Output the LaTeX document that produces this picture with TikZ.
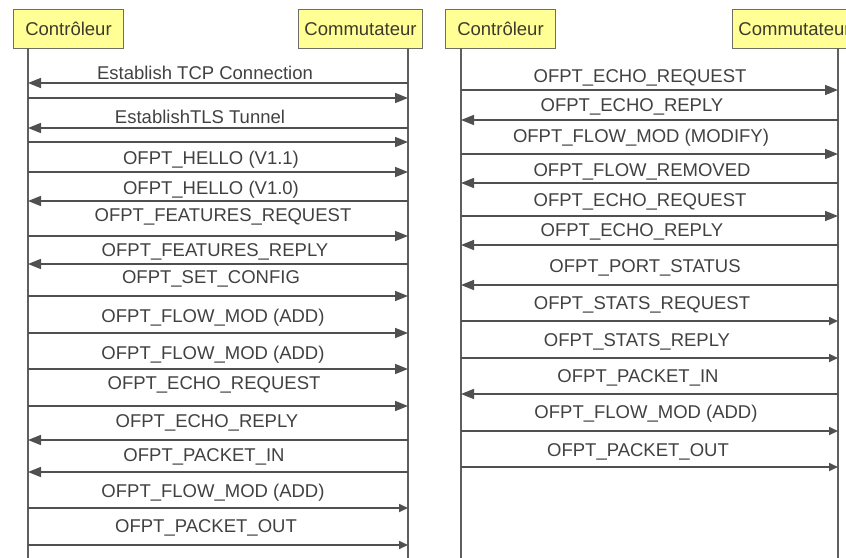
\documentclass[tikz,border=0pt]{standalone}
\usepackage{fontspec}
\setmainfont{Liberation Sans}
\usetikzlibrary{arrows.meta}
\definecolor{boxfill}{RGB}{255,255,150}
\definecolor{boxline}{RGB}{110,110,100}
\definecolor{lifeln}{RGB}{95,95,95}
\definecolor{msgln}{RGB}{80,80,80}
\definecolor{txt}{RGB}{65,65,65}
\tikzset{
  actor/.style={draw=boxline, line width=1pt, fill=boxfill, minimum height=39pt, inner sep=0pt, anchor=north west, text=black!75!olive, font=\fontsize{18.5}{20}\selectfont},
  lifeline/.style={draw=lifeln, line width=1.3pt},
  toR/.style={draw=msgln, line width=1.7pt, -{Triangle[length=13pt,width=10pt]}},
  toL/.style={draw=msgln, line width=1.7pt, {Triangle[length=13pt,width=10pt]}-},
  toRs/.style={draw=msgln, line width=1.7pt, -{Triangle[length=9pt,width=8pt]}},
  lbl/.style={text=txt, inner sep=0pt, font=\fontsize{18.5}{20}\selectfont}
}
% #1 name, #2 xl, #3 xr, #4 y, #5 style, #6 text, #7 tx, #8 ty
\newcommand\mymsg[8]{%
  \coordinate (#1a) at (#2,#4);
  \coordinate (#1b) at (#3,#4);
  \draw[#5] (#1a) -- (#1b);
  \node[lbl] (#1t) at (#7,#8) {#6};}
\newcommand\mybare[5]{%
  \coordinate (#1a) at (#2,#4);
  \coordinate (#1b) at (#3,#4);
  \draw[#5] (#1a) -- (#1b);}
\begin{document}
\begin{tikzpicture}[x=1pt,y=-1pt]
\useasboundingbox (0,0) rectangle (846,557);
\clip (0,0) rectangle (846,557);
% ---------- left diagram ----------
\node[actor, minimum width=110pt] (c1) at (13,9) {Contrôleur};
\node[actor, minimum width=124pt] (s1) at (298,9) {Commutateur};
\coordinate (c1top) at (28,48); \coordinate (c1bot) at (28,560);
\coordinate (s1top) at (408,48); \coordinate (s1bot) at (408,560);
\draw[lifeline] (c1top) -- (c1bot);
\draw[lifeline] (s1top) -- (s1bot);
\def\xl{28}\def\xr{408}
\mymsg{m1}{\xl}{\xr}{83}{toL}{Establish TCP Connection}{205}{73}
\mybare{m2}{\xl}{\xr}{98}{toR}
\mymsg{m3}{\xl}{\xr}{128}{toL}{EstablishTLS Tunnel}{200}{117}
\mybare{m4}{\xl}{\xr}{142}{toR}
\mymsg{m5}{\xl}{\xr}{172}{toR}{OFPT\_HELLO (V1.1)}{211}{160}
\mymsg{m6}{\xl}{\xr}{201}{toL}{OFPT\_HELLO (V1.0)}{211}{190}
\mymsg{m7}{\xl}{\xr}{236}{toR}{OFPT\_FEATURES\_REQUEST}{223}{217}
\mymsg{m8}{\xl}{\xr}{264}{toL}{OFPT\_FEATURES\_REPLY}{215}{252}
\mymsg{m9}{\xl}{\xr}{296}{toR}{OFPT\_SET\_CONFIG}{211}{279}
\mymsg{m10}{\xl}{\xr}{333}{toR}{OFPT\_FLOW\_MOD (ADD)}{213}{318}
\mymsg{m11}{\xl}{\xr}{369}{toR}{OFPT\_FLOW\_MOD (ADD)}{213}{355}
\mymsg{m12}{\xl}{\xr}{406}{toR}{OFPT\_ECHO\_REQUEST}{214}{385}
\mymsg{m13}{\xl}{\xr}{440}{toL}{OFPT\_ECHO\_REPLY}{207}{423}
\mymsg{m14}{\xl}{\xr}{472}{toL}{OFPT\_PACKET\_IN}{204}{457}
\mymsg{m15}{\xl}{\xr}{508}{toRs}{OFPT\_FLOW\_MOD (ADD)}{213}{493}
\mymsg{m16}{\xl}{\xr}{545}{toRs}{OFPT\_PACKET\_OUT}{206}{528}
% ---------- right diagram ----------
\node[actor, minimum width=110pt] (c2) at (445,9) {Contrôleur};
\node[actor, minimum width=124pt] (s2) at (732,9) {Commutateur};
\coordinate (c2top) at (461,48); \coordinate (c2bot) at (461,560);
\coordinate (s2top) at (838,48); \coordinate (s2bot) at (838,560);
\draw[lifeline] (c2top) -- (c2bot);
\draw[lifeline] (s2top) -- (s2bot);
\def\xl{461}\def\xr{838}
\mymsg{n1}{\xl}{\xr}{90}{toR}{OFPT\_ECHO\_REQUEST}{640}{78}
\mymsg{n2}{\xl}{\xr}{120}{toL}{OFPT\_ECHO\_REPLY}{632}{107}
\mymsg{n3}{\xl}{\xr}{154}{toR}{OFPT\_FLOW\_MOD (MODIFY)}{641}{138}
\mymsg{n4}{\xl}{\xr}{183}{toL}{OFPT\_FLOW\_REMOVED}{642}{172}
\mymsg{n5}{\xl}{\xr}{216}{toR}{OFPT\_ECHO\_REQUEST}{640}{202}
\mymsg{n6}{\xl}{\xr}{245}{toL}{OFPT\_ECHO\_REPLY}{632}{232}
\mymsg{n7}{\xl}{\xr}{285}{toL}{OFPT\_PORT\_STATUS}{645}{268}
\mymsg{n8}{\xl}{\xr}{321}{toRs}{OFPT\_STATS\_REQUEST}{642}{305}
\mymsg{n9}{\xl}{\xr}{358}{toRs}{OFPT\_STATS\_REPLY}{637}{342}
\mymsg{n10}{\xl}{\xr}{394}{toL}{OFPT\_PACKET\_IN}{638}{378}
\mymsg{n11}{\xl}{\xr}{431}{toRs}{OFPT\_FLOW\_MOD (ADD)}{646}{414}
\mymsg{n12}{\xl}{\xr}{467}{toRs}{OFPT\_PACKET\_OUT}{638}{452}
\end{tikzpicture}
\end{document}
